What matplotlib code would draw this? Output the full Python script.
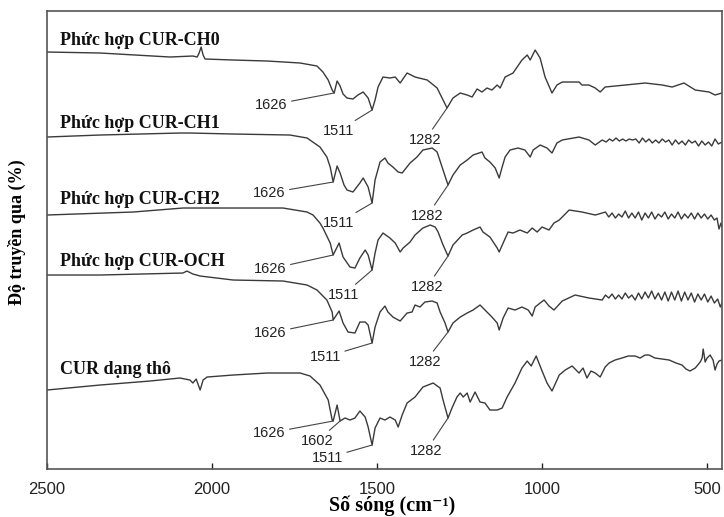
import matplotlib
matplotlib.use("Agg")
import matplotlib.pyplot as plt
import numpy as np


# phổ FTIR: (số sóng cm-1, độ truyền qua - đơn vị tương đối)
ch0 = np.array([
    (2500, 417), (2339, 416), (2127, 412), (2058, 413), (2045, 412), (2039, 416),
    (2033, 422), (2027, 414), (2021, 410), (1936, 409), (1833, 408), (1733, 406),
    (1682, 403), (1664, 397), (1648, 389), (1636, 379), (1630, 376), (1621, 388),
    (1612, 383), (1603, 375), (1591, 371), (1573, 370), (1558, 374), (1542, 377),
    (1527, 371), (1515, 359), (1506, 369), (1497, 382), (1482, 392), (1461, 391),
    (1445, 392), (1430, 386), (1409, 396), (1385, 392), (1348, 389), (1318, 381),
    (1300, 369), (1288, 361), (1270, 371), (1248, 376), (1227, 374), (1212, 372),
    (1197, 380), (1182, 377), (1167, 381), (1152, 379), (1136, 384), (1127, 381),
    (1112, 392), (1088, 396), (1061, 409), (1045, 414), (1036, 409), (1021, 419),
    (1006, 411), (991, 392), (970, 376), (955, 384), (939, 387), (888, 387),
    (879, 384), (858, 384), (839, 381), (824, 377), (809, 382), (748, 384),
    (688, 386), (636, 384), (606, 382), (570, 386), (536, 379), (494, 377),
    (476, 374), (455, 376),
])

ch1 = np.array([
    (2500, 332), (2339, 334), (2097, 336), (2067, 336), (1936, 335), (1764, 334),
    (1712, 331), (1673, 322), (1652, 312), (1642, 302), (1633, 287), (1621, 303),
    (1612, 296), (1600, 284), (1591, 279), (1573, 277), (1552, 286), (1542, 291),
    (1527, 282), (1515, 266), (1506, 289), (1491, 307), (1476, 311), (1467, 306),
    (1452, 302), (1436, 297), (1424, 296), (1400, 306), (1379, 312), (1361, 319),
    (1333, 321), (1318, 317), (1303, 302), (1285, 284), (1270, 294), (1248, 304),
    (1227, 309), (1209, 314), (1182, 317), (1173, 311), (1158, 307), (1142, 301),
    (1130, 291), (1121, 302), (1112, 312), (1097, 319), (1073, 321), (1052, 319),
    (1036, 312), (1027, 319), (1006, 324), (985, 321), (970, 316), (955, 326),
    (939, 329), (888, 332), (858, 329), (839, 324), (818, 329), (806, 327),
    (796, 330), (786, 328), (776, 331), (766, 328), (756, 330), (746, 328),
    (736, 330), (726, 329), (716, 330), (706, 326), (696, 331), (686, 327),
    (676, 330), (666, 326), (656, 329), (646, 326), (636, 330), (626, 327),
    (616, 329), (606, 324), (596, 329), (586, 325), (576, 328), (566, 324),
    (556, 329), (546, 326), (536, 328), (526, 323), (516, 328), (506, 324),
    (496, 327), (486, 323), (476, 330), (466, 325), (455, 327),
])

ch2 = np.array([
    (2500, 254), (2239, 257), (2088, 261), (1936, 261), (1785, 261), (1712, 257),
    (1694, 254), (1673, 246), (1664, 241), (1642, 226), (1633, 214), (1615, 226),
    (1603, 212), (1582, 202), (1567, 201), (1552, 211), (1536, 219), (1527, 214),
    (1515, 199), (1506, 216), (1497, 229), (1482, 236), (1461, 231), (1445, 226),
    (1430, 217), (1421, 221), (1400, 227), (1385, 234), (1361, 241), (1339, 244),
    (1324, 242), (1315, 237), (1300, 224), (1285, 213), (1270, 224), (1242, 234),
    (1227, 236), (1209, 239), (1188, 242), (1179, 237), (1158, 232), (1136, 221),
    (1130, 217), (1118, 226), (1103, 237), (1088, 236), (1067, 239), (1045, 236),
    (1030, 241), (1015, 237), (1000, 242), (979, 239), (964, 246), (948, 249),
    (918, 259), (879, 257), (839, 254), (818, 256), (808, 257), (798, 252),
    (788, 256), (778, 251), (768, 255), (758, 252), (748, 258), (738, 251),
    (728, 256), (718, 251), (708, 257), (698, 249), (688, 256), (678, 251),
    (668, 257), (658, 250), (648, 255), (638, 252), (628, 257), (618, 250),
    (608, 255), (598, 251), (588, 257), (578, 250), (568, 255), (558, 251),
    (548, 256), (538, 250), (528, 256), (518, 251), (508, 255), (498, 250),
    (488, 254), (478, 249), (470, 251), (464, 240), (458, 246), (455, 242),
])

och = np.array([
    (2500, 194), (2339, 194), (2088, 196), (2076, 198), (2058, 195), (2036, 193),
    (1936, 189), (1785, 188), (1712, 184), (1682, 179), (1652, 169), (1636, 157),
    (1633, 149), (1615, 158), (1603, 146), (1588, 137), (1567, 136), (1552, 147),
    (1536, 147), (1527, 144), (1515, 126), (1506, 142), (1491, 157), (1476, 163),
    (1467, 157), (1452, 152), (1430, 148), (1409, 156), (1394, 157), (1385, 164),
    (1370, 162), (1355, 167), (1333, 168), (1318, 166), (1309, 157), (1294, 146),
    (1285, 137), (1270, 146), (1248, 152), (1227, 156), (1209, 159), (1188, 164),
    (1173, 159), (1152, 152), (1136, 146), (1130, 139), (1118, 151), (1103, 161),
    (1082, 159), (1061, 162), (1042, 159), (1030, 153), (1021, 162), (1006, 166),
    (994, 169), (979, 163), (964, 159), (939, 168), (900, 174), (858, 171),
    (818, 169), (808, 174), (798, 171), (788, 175), (778, 170), (768, 174),
    (758, 170), (748, 176), (738, 171), (728, 174), (718, 169), (708, 176),
    (698, 170), (688, 177), (678, 171), (668, 178), (658, 170), (648, 176),
    (638, 169), (628, 177), (618, 168), (608, 177), (598, 169), (588, 178),
    (578, 168), (568, 177), (558, 169), (548, 176), (538, 167), (528, 175),
    (518, 169), (508, 175), (498, 167), (488, 173), (478, 166), (468, 170),
    (460, 162), (455, 166),
])

cur = np.array([
    (2500, 79), (2339, 84), (2188, 88), (2097, 91), (2067, 89), (2058, 86),
    (2048, 90), (2036, 79), (2027, 89), (2015, 92), (1936, 94), (1833, 96),
    (1733, 96), (1703, 93), (1673, 84), (1648, 69), (1636, 49), (1633, 48),
    (1621, 64), (1612, 48), (1597, 51), (1582, 49), (1567, 51), (1552, 58),
    (1536, 52), (1527, 42), (1515, 24), (1506, 41), (1491, 51), (1476, 49),
    (1461, 52), (1445, 49), (1436, 42), (1424, 54), (1409, 66), (1385, 72),
    (1361, 82), (1330, 86), (1309, 81), (1300, 69), (1285, 51), (1273, 61),
    (1258, 72), (1248, 76), (1239, 72), (1227, 76), (1218, 67), (1203, 77),
    (1188, 67), (1173, 66), (1158, 59), (1136, 59), (1121, 61), (1106, 72),
    (1082, 86), (1061, 101), (1045, 108), (1033, 103), (1018, 113), (1000, 98),
    (985, 86), (970, 78), (948, 94), (930, 99), (909, 103), (888, 96),
    (876, 101), (864, 91), (852, 98), (839, 96), (824, 92), (809, 102),
    (797, 106), (779, 109), (758, 111), (739, 113), (718, 113), (703, 111),
    (688, 114), (676, 114), (658, 111), (636, 110), (615, 109), (594, 106),
    (576, 104), (564, 100), (552, 98), (536, 101), (521, 107), (515, 111),
    (512, 120), (509, 114), (506, 107), (500, 111), (491, 114), (482, 109),
    (476, 99), (470, 105), (464, 108), (455, 109),
])

spectra = [ch0, ch1, ch2, och, cur]
names = ["Phức hợp CUR-CH0", "Phức hợp CUR-CH1", "Phức hợp CUR-CH2",
         "Phức hợp CUR-OCH", "CUR dạng thô"]
peaks = [
    [1626, 1511, 1282],
    [1626, 1511, 1282],
    [1626, 1511, 1282],
    [1626, 1511, 1282],
    [1626, 1602, 1511, 1282],
]
xticks = [2500, 2000, 1500, 1000, 500]

# vị trí chữ (pixel) so với đỉnh
label_dy = [12, 14, 16, 14, 21]
peak_offsets = [
    [(-63, -12), (-34, -21), (-22, -32)],
    [(-64, -11), (-34, -20), (-21, -31)],
    [(-63, -14), (-29, -25), (-21, -31)],
    [(-63, -13), (-47, -14), (-23, -30)],
    [(-64, -12), (-23, -20), (-45, -13), (-22, -33)],
]

serif = ["Liberation Serif", "DejaVu Serif"]
sans = ["Liberation Sans", "DejaVu Sans"]
line_col = "#3a3a3a"

fig = plt.figure(figsize=(7.24, 5.17), dpi=100)
ax = fig.add_axes([0.0649, 0.0928, 0.9323, 0.8859])

for spec, name, pk, offs, dy in zip(spectra, names, peaks, peak_offsets, label_dy):
    wn, t = spec[:, 0], spec[:, 1]
    ax.plot(wn, t, color=line_col, lw=1.0)
    ax.text(2462, t[0] + dy, name, fontsize=13, fontweight="bold",
            family=serif, ha="left", va="center", color="#111")
    for p, (dx, dyy) in zip(pk, offs):
        near = np.abs(wn - p) <= 12
        i = np.argmin(np.where(near, t, np.inf))
        ax.annotate(str(p), xy=(wn[i], t[i]), xytext=(dx, dyy),
                    textcoords="offset pixels", ha="center", va="center",
                    fontsize=10.5, family=sans, color="#222",
                    arrowprops=dict(arrowstyle="-", color="#444", lw=0.8,
                                    shrinkA=1, shrinkB=0))

ax.set_xlim(2500, 455)
ax.set_ylim(0, 458)
ax.set_xticks(xticks)
ax.set_yticks([])
ax.tick_params(axis="x", direction="in", length=4, width=1, pad=9,
               labelsize=12, colors="#222")
for lab in ax.get_xticklabels():
    lab.set_family(sans)
for s in ax.spines.values():
    s.set_color("#555")
    s.set_linewidth(1.2)

fig.text(392 / 724, 1 - 511 / 517, "Số sóng (cm⁻¹)", fontsize=14.5,
         fontweight="bold", family=serif, ha="center", va="baseline")
fig.text(17 / 724, 1 - 232 / 517, "Độ truyền qua (%)", fontsize=13,
         fontweight="bold", family=serif, ha="center", va="center",
         rotation=90)

fig.savefig("out.png", dpi=100)
